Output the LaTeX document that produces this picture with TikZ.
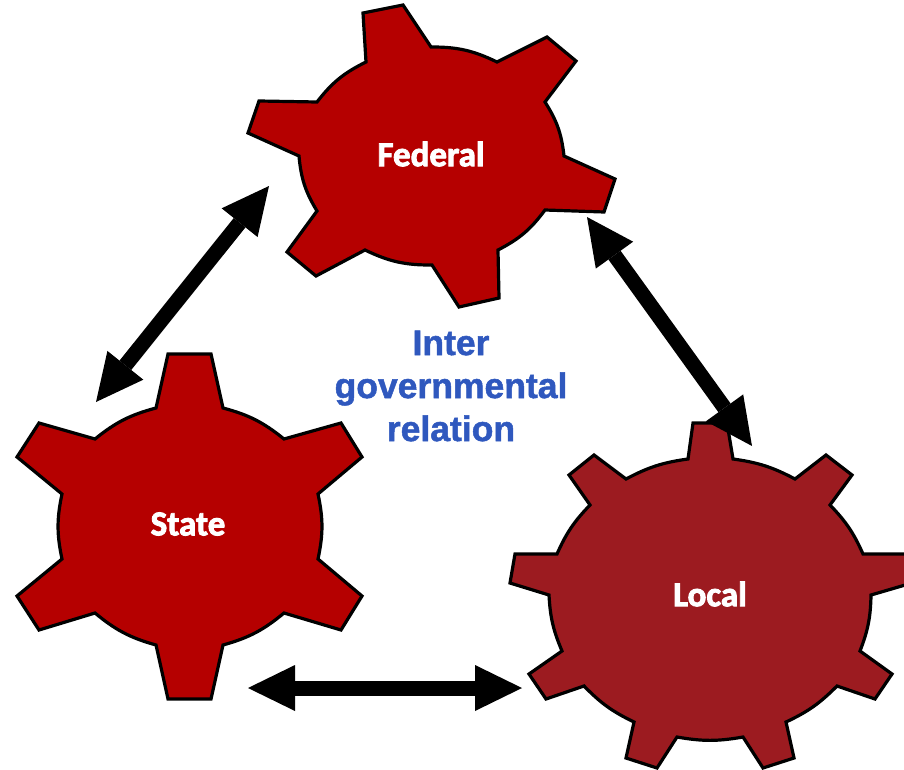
\documentclass[tikz,border=0pt]{standalone}
\usepackage{fontspec}
\usepackage{tikz}
\usetikzlibrary{arrows.meta}
\newfontfamily\gearfont{Carlito}[BoldFeatures={FakeBold=2.5}]
\newfontfamily\relfont{Liberation Sans}[BoldFeatures={FakeBold=1.4}]
\definecolor{gearred}{RGB}{181,0,0}
\definecolor{gearbrown}{RGB}{156,27,32}
\definecolor{relblue}{RGB}{47,88,190}
\tikzset{
    gear/.style={
           draw=black, line width=3.2pt,
           line join=miter,
           },
    gearlabel/.style={
           text=white,
           inner sep=0pt,
           font=\gearfont\bfseries\fontsize{35}{35}\selectfont,
           },
    relation/.style={
           text=relblue,
           inner sep=0pt,
           align=center,
           font=\relfont\bfseries\fontsize{35.5}{43}\selectfont,
           },
    bothway/.style={
           draw=black, line width=15pt,
           {Triangle[length=47pt,width=46pt,line width=0pt]}-{Triangle[length=47pt,width=46pt,line width=0pt]},
           },
}

\begin{document}
\begin{tikzpicture}[x=1pt,y=-1pt]
\useasboundingbox (0,0) rectangle (904,770);
% gears
\draw[gear, fill=gearred] (363,13) -- (403,5) -- (431,47) to[bend left=13] (497,62)
  -- (547,37) -- (576,61) -- (545,102) to[bend left=13] (564,156)
  -- (615,179) -- (604,212) -- (545,210) to[bend left=13] (498,250)
  -- (499,298) -- (459,307) -- (432,265) to[bend left=13] (365,250)
  -- (316,276) -- (287,252) -- (317,211) to[bend left=13] (299,156)
  -- (248,133) -- (259,101) -- (317,102) to[bend left=13] (366,62) -- cycle;
\draw[gear, fill=gearred] (168,354) -- (211,354) -- (223,408) to[bend left=12] (284,439)
  -- (341,423) -- (362,457) -- (318,494) to[bend left=12] (318,559)
  -- (362,596) -- (341,630) -- (284,613) to[bend left=12] (223,645)
  -- (211,699) -- (168,699) -- (156,645) to[bend left=12] (95,613)
  -- (39,630) -- (17,596) -- (62,559) to[bend left=12] (62,494)
  -- (17,457) -- (39,423) -- (95,439) to[bend left=12] (156,408) -- cycle;
\draw[gear, fill=gearbrown] (693,423) -- (727,423) -- (733,459) to[bend left=10] (795,479)
  -- (826,455) -- (852,475) -- (830,505) to[bend left=10] (863,554)
  -- (912,554) -- (912,583) -- (871,595) to[bend left=10] (860,651)
  -- (892,674) -- (875,699) -- (837,686) to[bend left=10] (786,722)
  -- (794,758) -- (763,768) -- (743,737) to[bend left=10] (677,737)
  -- (657,768) -- (626,758) -- (634,722) to[bend left=10] (584,686)
  -- (546,699) -- (529,674) -- (562,651) to[bend left=10] (549,595)
  -- (510,583) -- (515,554) -- (557,554) to[bend left=10] (590,505)
  -- (569,475) -- (594,455) -- (626,479) to[bend left=10] (688,459) -- cycle;
% labels
\node[gearlabel] (federal) at (431,154) {Federal};
\node[gearlabel] (state) at (188,524) {State};
\node[gearlabel] (local) at (710,594) {Local};
\node[relation] (rel) at (451,386) {Inter\\governmental\\relation};
% arrow ends
\coordinate (fedl) at (269,186);
\coordinate (fedr) at (587,217);
\coordinate (stat) at (96,402);
\coordinate (statr) at (248,688);
\coordinate (loct) at (752,446);
\coordinate (locl) at (522,688);
\path (stat) edge[bothway] (fedl);
\path (fedr) edge[bothway] (loct);
\path (statr) edge[bothway] (locl);
\end{tikzpicture}
\end{document}
